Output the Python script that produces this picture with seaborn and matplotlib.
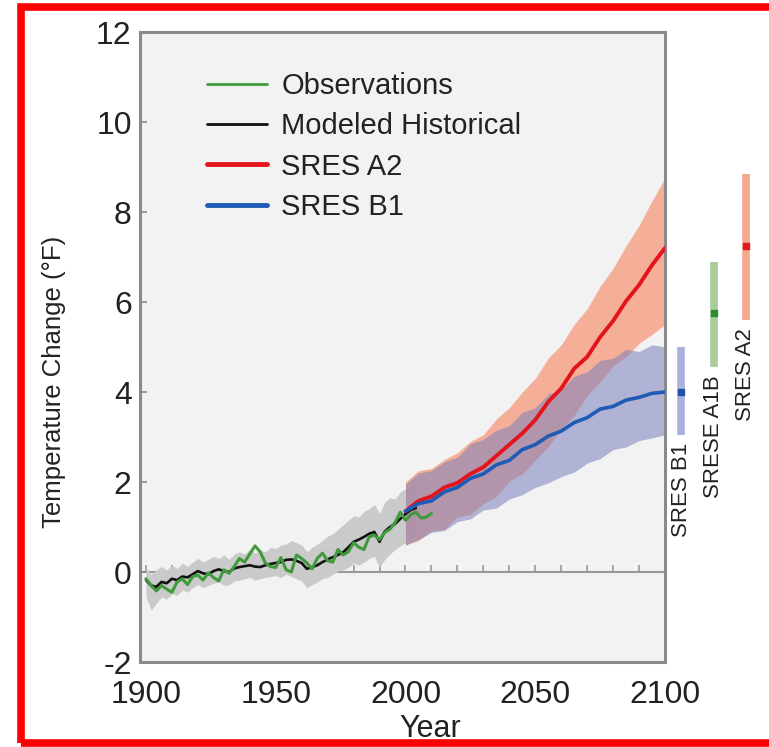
import numpy as np
import pandas as pd
import seaborn as sns
import matplotlib.pyplot as plt
import matplotlib.transforms as mtransforms
from matplotlib.patches import Rectangle

# observations, every 2 years 1900-2010
obs_years = list(range(1900, 2011, 2))
obs_temp = [-0.15, -0.30, -0.42, -0.30, -0.38, -0.45, -0.22, -0.15, -0.28, -0.10,
            -0.07, -0.18, -0.02, -0.12, -0.20, 0.05, -0.03, 0.12, 0.30, 0.22,
            0.40, 0.58, 0.45, 0.20, 0.12, 0.10, 0.32, 0.05, 0.00, 0.38,
            0.30, 0.20, 0.07, 0.30, 0.42, 0.25, 0.22, 0.50, 0.38, 0.45,
            0.65, 0.55, 0.50, 0.78, 0.82, 0.72, 0.88, 0.95, 1.10, 1.33,
            1.15, 1.27, 1.33, 1.20, 1.22, 1.30]

# modeled historical, every 2 years 1900-2004
hist_years = list(range(1900, 2005, 2))
hist_temp = [-0.18, -0.30, -0.33, -0.22, -0.25, -0.15, -0.18, -0.10, -0.12, -0.05,
             0.02, -0.03, -0.05, 0.02, 0.06, 0.02, 0.00, 0.08, 0.11, 0.13,
             0.15, 0.12, 0.11, 0.15, 0.18, 0.20, 0.22, 0.27, 0.28, 0.25,
             0.20, 0.07, 0.11, 0.15, 0.22, 0.28, 0.33, 0.38, 0.44, 0.55,
             0.67, 0.72, 0.78, 0.85, 0.89, 0.67, 0.90, 1.00, 1.07, 1.18,
             1.29, 1.38, 1.42]
hist_hi = [0.10, -0.05, 0.05, 0.12, 0.05, 0.15, 0.08, 0.20, 0.12, 0.22,
           0.30, 0.22, 0.28, 0.35, 0.30, 0.38, 0.28, 0.40, 0.45, 0.40,
           0.50, 0.42, 0.48, 0.45, 0.55, 0.52, 0.60, 0.62, 0.70, 0.65,
           0.60, 0.45, 0.55, 0.62, 0.70, 0.80, 0.85, 0.95, 1.05, 1.15,
           1.25, 1.22, 1.35, 1.40, 1.50, 1.30, 1.55, 1.65, 1.62, 1.78,
           1.85, 1.90, 1.95]
hist_lo = [-0.55, -0.85, -0.70, -0.55, -0.60, -0.48, -0.52, -0.40, -0.45, -0.35,
           -0.28, -0.35, -0.30, -0.25, -0.22, -0.30, -0.28, -0.20, -0.18, -0.15,
           -0.12, -0.18, -0.15, -0.12, -0.10, -0.08, -0.12, -0.05, -0.10, -0.15,
           -0.20, -0.35, -0.28, -0.22, -0.15, -0.12, -0.05, 0.02, 0.05, 0.10,
           0.20, 0.15, 0.22, 0.30, 0.35, 0.10, 0.28, 0.40, 0.50, 0.58,
           0.65, 0.75, 0.80]

# scenario projections, every 5 years 2000-2100
proj_years = list(range(2000, 2101, 5))
a2_temp = [1.35, 1.58, 1.68, 1.88, 1.98, 2.18, 2.33, 2.58, 2.83, 3.08, 3.38,
           3.78, 4.08, 4.52, 4.78, 5.22, 5.58, 6.02, 6.38, 6.82, 7.20]
a2_hi = [2.00, 2.25, 2.30, 2.50, 2.65, 2.90, 3.05, 3.40, 3.65, 4.00, 4.30,
         4.75, 5.05, 5.50, 5.85, 6.35, 6.75, 7.25, 7.70, 8.25, 8.75]
a2_lo = [0.60, 0.70, 0.92, 0.95, 1.22, 1.28, 1.52, 1.68, 2.02, 2.18, 2.48,
         2.78, 3.18, 3.48, 3.92, 4.22, 4.58, 4.78, 5.08, 5.28, 5.50]
b1_temp = [1.35, 1.52, 1.58, 1.78, 1.88, 2.08, 2.18, 2.38, 2.48, 2.72, 2.83,
           3.02, 3.13, 3.32, 3.43, 3.62, 3.68, 3.82, 3.88, 3.97, 4.00]
b1_hi = [1.95, 2.20, 2.25, 2.45, 2.55, 2.85, 2.95, 3.15, 3.25, 3.55, 3.65,
         3.95, 4.05, 4.35, 4.45, 4.70, 4.75, 4.95, 4.90, 5.05, 5.00]
b1_lo = [0.60, 0.72, 0.88, 0.92, 1.12, 1.18, 1.38, 1.42, 1.62, 1.72, 1.88,
         1.98, 2.12, 2.22, 2.42, 2.52, 2.72, 2.78, 2.92, 2.98, 3.05]

# likely ranges at 2100 shown to the right of the plot
range_labels = ["SRES B1", "SRESE A1B", "SRES A2"]
range_best = [4.0, 5.75, 7.25]
range_low = [3.05, 4.55, 5.6]
range_high = [5.0, 6.9, 8.85]
range_bar_colors = ["#a9b1dc", "#a8cc9a", "#f4a88c"]
range_dot_colors = ["#1f4fa8", "#2e8b2e", "#e01c1c"]

sns.set_theme(style="white")
plt.rcParams["font.family"] = ["Liberation Sans", "DejaVu Sans"]
plt.rcParams["axes.unicode_minus"] = False

fig = plt.figure(figsize=(7.69, 7.47), dpi=100)
ax = fig.add_axes([140 / 769, 85 / 747, 525 / 769, 630 / 747])
ax.set_facecolor("#f2f2f2")

# bands
ax.fill_between(hist_years, hist_lo, hist_hi, color="#cacaca", lw=0, zorder=1)
ax.fill_between(proj_years, a2_lo, a2_hi, color="#f6a488", alpha=0.85, lw=0, zorder=1)
ax.fill_between(proj_years, b1_lo, b1_hi, color="#7c80bc", alpha=0.55, lw=0, zorder=1)

# lines
sns.lineplot(x=hist_years, y=hist_temp, ax=ax, color="#111111", lw=1.9,
             label="Modeled Historical", zorder=3)
sns.lineplot(x=proj_years, y=a2_temp, ax=ax, color="#e3141b", lw=2.8,
             label="SRES A2", zorder=3)
sns.lineplot(x=proj_years, y=b1_temp, ax=ax, color="#1f5bb5", lw=2.6,
             label="SRES B1", zorder=3)
sns.lineplot(x=obs_years, y=obs_temp, ax=ax, color="#3f9a3c", lw=2.2,
             label="Observations", zorder=4)

ax.set_xlim(1897.7, 2100)
ax.set_ylim(-2, 12)
ax.set_xticks([1900, 1950, 2000, 2050, 2100])
ax.set_yticks([-2, 0, 2, 4, 6, 8, 10, 12])
ax.tick_params(axis="x", length=0, pad=13, labelsize=23, labelcolor="#222222")
ax.tick_params(axis="y", direction="in", length=5, width=1.2, color="#888888",
               pad=6, labelsize=23, labelcolor="#222222", left=True)
for s in ax.spines.values():
    s.set_color("#8a8a8a")
    s.set_linewidth(2.2)

# zero line with decade ticks
zero_ax = ax.secondary_xaxis(2 / 14)
zero_ax.set_xticks(list(range(1900, 2101, 10)))
zero_ax.tick_params(direction="in", length=5, width=1.2, color="#999999",
                    labelbottom=False)
zero_ax.spines["bottom"].set_color("#999999")
zero_ax.spines["bottom"].set_linewidth(1.5)

ax.set_xlabel("Year", fontsize=22, color="#222222")
ax.xaxis.set_label_coords(0.552, -0.082)
ax.set_ylabel("Temperature Change (°F)", fontsize=18.5, color="#222222")
ax.yaxis.set_label_coords(-0.14, 0.445)

# legend in order
handles, labels = ax.get_legend_handles_labels()
order = [labels.index(n) for n in ["Observations", "Modeled Historical", "SRES A2", "SRES B1"]]
leg = ax.legend([handles[i] for i in order], [labels[i] for i in order],
                loc="upper left", bbox_to_anchor=(0.105, 0.955), frameon=False,
                fontsize=21, handlelength=2.05, handletextpad=0.5,
                labelspacing=0.42, borderaxespad=0)
for t in leg.get_texts():
    t.set_color("#222222")
leg.get_lines()[0].set_linewidth(2.0)
leg.get_lines()[1].set_linewidth(2.0)
leg.get_lines()[2].set_linewidth(3.5)
leg.get_lines()[3].set_linewidth(3.5)

# likely ranges outside the axes
trans = mtransforms.blended_transform_factory(ax.transAxes, ax.transData)
xpos = [1.0305, 1.093, 1.154]
for i, name in enumerate(range_labels):
    ax.plot([xpos[i], xpos[i]], [range_low[i], range_high[i]], transform=trans,
            color=range_bar_colors[i], lw=5.5, solid_capstyle="butt", clip_on=False)
    ax.plot([xpos[i]], [range_best[i]], transform=trans, marker="s", ms=4,
            color=range_dot_colors[i], clip_on=False)
    ax.text(xpos[i], range_low[i] - 0.18, name, transform=trans, rotation=90,
            ha="center", va="top", fontsize=16, color="#222222")

# red frame, open on the right
fig.patches.append(Rectangle((21 / 769, 4 / 747), 800 / 769, 736 / 747,
                             transform=fig.transFigure, fill=False,
                             edgecolor="#ff0000", lw=5.5, zorder=10))

fig.savefig("out.png", dpi=100)
